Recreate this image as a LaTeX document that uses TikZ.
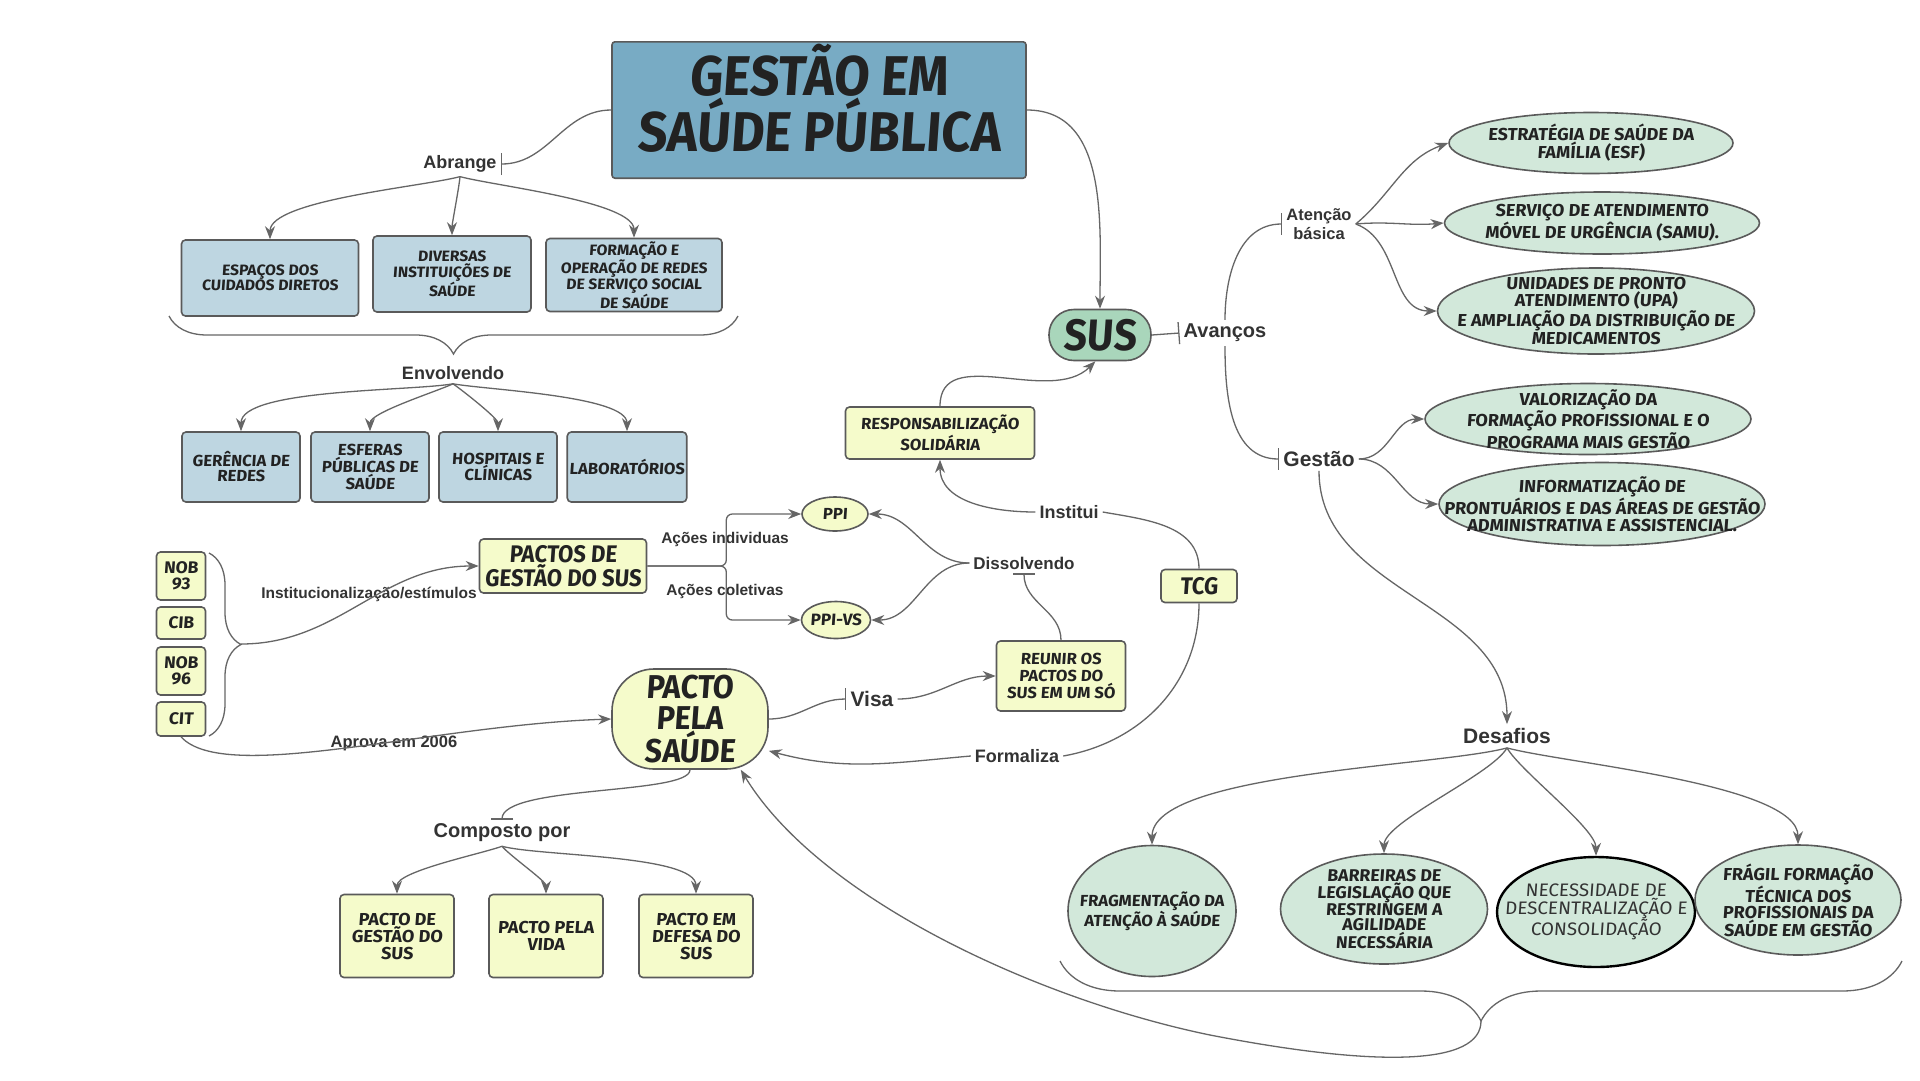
\documentclass[tikz,border=0pt]{standalone}
\usepackage{fontspec}
\setmainfont{Liberation Sans}
\newfontfamily\comicfont[FakeStretch=0.92,FakeSlant=0.07]{Fira Sans}
\newfontfamily\smallcomic[FakeStretch=1.04,FakeSlant=0.07]{Fira Sans}
\usetikzlibrary{arrows.meta,positioning}
\usetikzlibrary{calc,shapes.geometric,decorations.pathreplacing}

\definecolor{titleblue}{HTML}{78ABC4}
\definecolor{boxblue}{HTML}{BED6E1}
\definecolor{boxyellow}{HTML}{F5FBCB}
\definecolor{susgreen}{HTML}{A9D6BB}
\definecolor{boxgreen}{HTML}{D2E8DA}
\definecolor{edgegray}{HTML}{5A5A5A}
\definecolor{linegray}{HTML}{666666}
\definecolor{inkgray}{HTML}{222222}
\definecolor{labelgray}{HTML}{333333}
\newcommand{\fsize}[2]{\fontsize{#1}{#2}\selectfont}

\begin{document}
\begin{tikzpicture}[
      x=1pt, y=1pt,
      mybox/.style={
         rectangle,
         rounded corners=4pt,
         draw=edgegray,
         line width=1.6pt,
         align=center,
         inner sep=2pt,
         text=inkgray,
         font=\smallcomic\bfseries\fsize{15}{15.5}},
      bluebox/.style={mybox, fill=boxblue},
      yellowbox/.style={mybox, fill=boxyellow},
      myellipse/.style={
         ellipse,
         draw=edgegray,
         line width=1.6pt,
         fill=boxgreen,
         align=center,
         inner sep=-80pt,
         text=inkgray,
         font=\smallcomic\bfseries\fsize{17.3}{16.8}},
      mylabel/.style={
         align=center,
         inner sep=4pt,
         text=labelgray,
         font=\bfseries\fsize{18}{19}},
      myline/.style={draw=linegray, line width=1.3pt},
      myarrow/.style={myline, -{Stealth[length=13pt,width=10pt]}},
      mytick/.style={myline, -{Bar[width=22pt]}},
      mybrace/.style={myline, decorate},
      fan/.style={looseness=0.5}
      ]
      \useasboundingbox (0,0) rectangle (1920,-1080);
      \fill[white] (0,0) rectangle (1920,-1080);

      % top
      \node[mybox, fill=titleblue, minimum width=414pt, minimum height=130pt, rounded corners=3pt, text depth=25pt,
            font=\comicfont\bfseries\fsize{56}{56}] (title) at (819,-110) {GESTÃO EM\\SAÚDE PÚBLICA};
      \node[mylabel] (abrange) at (460,-164) {Abrange};
      \node[bluebox, minimum width=177pt, minimum height=76pt] (espacos) at (270,-278) {ESPAÇOS DOS\\CUIDADOS DIRETOS};
      \node[bluebox, minimum width=158pt, minimum height=76pt] (diversas) at (452,-274) {DIVERSAS\\INSTITUIÇÕES DE\\SAÚDE};
      \node[bluebox, minimum width=176pt, minimum height=73pt] (formacao) at (634,-275) {FORMAÇÃO E\\OPERAÇÃO DE REDES\\DE SERVIÇO SOCIAL\\DE SAÚDE};
      \draw[mybrace, decoration={brace, mirror, amplitude=38pt}] (169,-316) -- (738,-316);
      \node[mylabel] (envolvendo) at (453,-373) {Envolvendo};
      \foreach \nm/\x/\txt in {gerencia/241/{GERÊNCIA DE\\REDES}, esferas/370/{ESFERAS\\PÚBLICAS DE\\SAÚDE},
                               hospitais/498/{HOSPITAIS E\\CLÍNICAS}, laboratorios/627/{LABORATÓRIOS}}
        \node[bluebox, minimum width=118pt, minimum height=70pt, font=\smallcomic\bfseries\fsize{16}{15}] (\nm) at (\x,-467) {\txt};

      % left column
      \node[yellowbox, minimum width=49pt, minimum height=48pt, font=\smallcomic\bfseries\fsize{16.8}{16}] (nob93) at (181,-576) {NOB\\93};
      \node[yellowbox, minimum width=49pt, minimum height=32pt, font=\smallcomic\bfseries\fsize{16.8}{16}] (cib) at (181,-623) {CIB};
      \node[yellowbox, minimum width=49pt, minimum height=48pt, font=\smallcomic\bfseries\fsize{16.8}{16}] (nob96) at (181,-671) {NOB\\96};
      \node[yellowbox, minimum width=49pt, minimum height=34pt, font=\smallcomic\bfseries\fsize{16.8}{16}] (cit) at (181,-719) {CIT};
      \draw[mybrace, decoration={brace, amplitude=32pt}] (209,-553) -- (209,-736);
      \coordinate (normas) at (241,-644);

      % middle
      \node[yellowbox, minimum width=167pt, minimum height=54pt, font=\comicfont\bfseries\fsize{24}{22}] (pactos) at (563,-566) {PACTOS DE\\GESTÃO DO SUS};
      \node[mylabel, font=\bfseries\fsize{15.5}{17}] (instit) at (369,-594) {Institucionalização/estímulos};
      \node[myellipse, fill=boxyellow, minimum width=66pt, minimum height=34pt, font=\smallcomic\bfseries\fsize{16}{16}] (ppi) at (835,-514) {PPI};
      \node[myellipse, fill=boxyellow, minimum width=69pt, minimum height=37pt, font=\smallcomic\bfseries\fsize{16.4}{16}] (ppivs) at (836,-620) {PPI-VS};
      \node[mylabel, font=\bfseries\fsize{15.5}{17}] (acoesind) at (725,-539) {Ações individuas};
      \node[mylabel, font=\bfseries\fsize{15.5}{17}] (acoescol) at (725,-591) {Ações coletivas};
      \node[mylabel, font=\bfseries\fsize{17}{19}] (dissolvendo) at (1024,-563) {Dissolvendo};
      \node[yellowbox, minimum width=129pt, minimum height=70pt, font=\smallcomic\bfseries\fsize{16}{17}] (reunir) at (1061,-676) {REUNIR OS\\PACTOS DO\\SUS EM UM SÓ};
      \node[yellowbox, minimum width=76pt, minimum height=33pt, font=\comicfont\bfseries\fsize{24}{22}] (tcg) at (1199,-586) {TCG};
      \node[mylabel] (institui) at (1069,-512) {Institui};
      \node[mylabel] (formaliza) at (1017,-756) {Formaliza};
      \node[yellowbox, minimum width=189pt, minimum height=52pt, font=\smallcomic\bfseries\fsize{16}{16}] (resp) at (940,-433) {RESPONSABILIZAÇÃO\\SOLIDÁRIA};
      \node[mybox, fill=susgreen, rounded corners=25pt, minimum width=102pt, minimum height=51pt,
            font=\comicfont\bfseries\fsize{44}{44}] (sus) at (1100,-335) {SUS};
      \node[mybox, fill=boxyellow, rounded corners=42pt, minimum width=156pt, minimum height=100pt,
            font=\comicfont\bfseries\fsize{33}{31}] (pacto) at (690,-719) {PACTO\\PELA\\SAÚDE};
      \node[mylabel, font=\bfseries\fsize{16.5}{18}] (aprova) at (394,-743) {Aprova em 2006};
      \node[mylabel, font=\bfseries\fsize{21}{23}] (visa) at (872,-699) {Visa};
      \node[mylabel, font=\bfseries\fsize{20}{22}] (composto) at (502,-833) {Composto por};
      \foreach \nm/\x/\txt in {pgestao/397/{PACTO DE\\GESTÃO DO\\SUS}, pvida/546/{PACTO PELA\\VIDA},
                               pdefesa/696/{PACTO EM\\DEFESA DO\\SUS}}
        \node[yellowbox, minimum width=114pt, minimum height=83pt, font=\smallcomic\bfseries\fsize{17.3}{17}] (\nm) at (\x,-936) {\txt};

      % right
      \node[mylabel, font=\bfseries\fsize{20}{22}] (avancos) at (1225,-333) {Avanços};
      \node[mylabel, font=\bfseries\fsize{16.5}{19}] (atencao) at (1319,-224) {Atenção\\básica};
      \node[mylabel, font=\bfseries\fsize{21}{23}] (gestao) at (1319,-459) {Gestão};
      \node[myellipse, minimum width=284pt, minimum height=61pt] (esf) at (1591,-143) {ESTRATÉGIA DE SAÚDE DA\\FAMÍLIA (ESF)};
      \node[myellipse, minimum width=315pt, minimum height=62pt] (samu) at (1602,-223) {SERVIÇO DE ATENDIMENTO\\MÓVEL DE URGÊNCIA (SAMU).};
      \node[myellipse, minimum width=317pt, minimum height=86pt] (upa) at (1596,-311) {UNIDADES DE PRONTO\\ATENDIMENTO (UPA)\\E AMPLIAÇÃO DA DISTRIBUIÇÃO DE\\MEDICAMENTOS};
      \node[myellipse, minimum width=326pt, minimum height=71pt] (valor) at (1588,-419) {VALORIZAÇÃO DA\\FORMAÇÃO PROFISSIONAL E O\\PROGRAMA MAIS GESTÃO};
      \node[myellipse, minimum width=326pt, minimum height=83pt] (info) at (1602,-504) {INFORMATIZAÇÃO DE\\PRONTUÁRIOS E DAS ÁREAS DE GESTÃO\\ADMINISTRATIVA E ASSISTENCIAL.};
      \node[mylabel, font=\bfseries\fsize{21}{23}] (desafios) at (1507,-736) {Desafios};
      \node[myellipse, minimum width=168pt, minimum height=131pt, font=\smallcomic\bfseries\fsize{16}{15}] (frag) at (1152,-911) {FRAGMENTAÇÃO DA\\ATENÇÃO À SAÚDE};
      \node[myellipse, minimum width=207pt, minimum height=110pt, font=\smallcomic\bfseries\fsize{17}{15}] (barr) at (1384,-909) {BARREIRAS DE\\LEGISLAÇÃO QUE\\RESTRINGEM A\\AGILIDADE\\NECESSÁRIA};
      \node[myellipse, draw=black, line width=2.4pt, minimum width=198pt, minimum height=110pt, text=labelgray,
            font=\smallcomic\fsize{18.1}{16.5}] (nec) at (1596,-912) {NECESSIDADE DE\\DESCENTRALIZAÇÃO E\\CONSOLIDAÇÃO};
      \node[myellipse, minimum width=206pt, minimum height=110pt, font=\smallcomic\bfseries\fsize{17.3}{16}] (fragil) at (1798,-900) {FRÁGIL FORMAÇÃO\\TÉCNICA DOS\\PROFISSIONAIS DA\\SAÚDE EM GESTÃO};
      \draw[mybrace, decoration={brace, mirror, amplitude=60pt}] (1060,-961) -- (1902,-961);
      \coordinate (desafiosbr) at (1481,-1021);

      % connectors
      \draw[mytick] (title.west) to[out=180,in=0] (abrange.east);
      \foreach \t/\o in {espacos/-165, diversas/-95, formacao/-15}
        \draw[myarrow] (abrange.south) to[fan,out=\o,in=90] (\t.north);
      \foreach \t/\o in {gerencia/-170, esferas/-155, hospitais/-35, laboratorios/-10}
        \draw[myarrow] (envolvendo.south) to[fan,out=\o,in=90] (\t.north);

      \draw[myarrow] (normas) to[out=0,in=180] (pactos.west);
      \draw[myarrow, rounded corners=6pt] (pactos.east) -- ++(79,0) |- (ppi.west);
      \draw[myarrow, rounded corners=6pt] (pactos.east) -- ++(79,0) |- (ppivs.west);
      \draw[myarrow] (dissolvendo.west) to[out=180,in=0] (ppi.east);
      \draw[myarrow] (dissolvendo.west) to[out=180,in=0] (ppivs.east);
      \draw[mytick] (reunir.north) to[out=90,in=-90] (dissolvendo.south);

      \draw[myarrow] (cit.south) .. controls (225,-785) and (430,-725) .. (pacto.west);
      \draw[mytick] (pacto.east) to[out=0,in=180] (visa.west);
      \draw[myarrow] (visa.east) to[out=0,in=180] (reunir.west);
      \draw[mytick] (pacto.south) .. controls (690,-795) and (502,-785) .. (composto.north);
      \foreach \t/\o in {pgestao/-160, pvida/-50, pdefesa/-15}
        \draw[myarrow] (composto.south) to[fan,out=\o,in=90] (\t.north);

      \draw[myline] (tcg.north) to[out=90,in=-10] (institui.east);
      \draw[myarrow] (institui.west) to[out=180,in=-90] (resp.south);
      \draw[myline] (tcg.south) to[out=-90,in=10] (formaliza.east);
      \draw[myarrow] (formaliza.west) to[out=185,in=-15] (pacto.-22);

      \draw[myarrow] (title.east) to[out=0,in=90] (sus.north);
      \draw[myarrow] (resp.north) to[out=90,in=225] (sus.-100);
      \draw[mytick] (sus.east) -- (avancos.west);
      \draw[mytick] (avancos.north) to[out=90,in=180] (atencao.west);
      \draw[mytick] (avancos.south) to[out=-90,in=180] (gestao.west);
      \foreach \t/\o/\i in {esf/40/200, samu/5/185, upa/-20/180}
        \draw[myarrow] (atencao.east) to[out=\o,in=\i] (\t.west);
      \foreach \t in {valor, info}
        \draw[myarrow] (gestao.east) to[out=0,in=180] (\t.west);
      \draw[myarrow] (gestao.south) to[out=-90,in=90] (desafios.north);
      \foreach \t/\o in {frag/-165, barr/-120, nec/-60, fragil/-15}
        \draw[myarrow] (desafios.south) to[fan,out=\o,in=90] (\t.north);
      \draw[myarrow] (desafiosbr) .. controls (1481,-1065) and (1380,-1068) .. (1210,-1035)
                                  .. controls (1040,-1000) and (820,-900) .. (pacto.-45);

    \end{tikzpicture}
\end{document}
